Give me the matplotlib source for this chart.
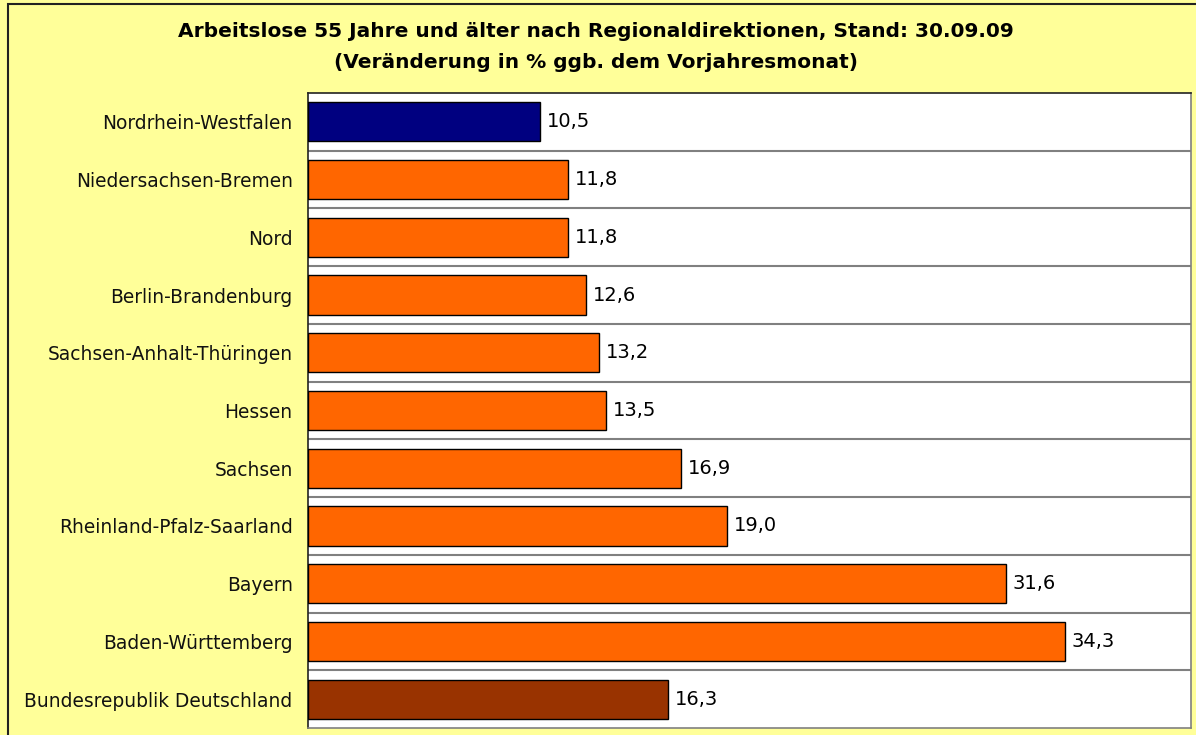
import matplotlib
matplotlib.use("Agg")
import matplotlib.pyplot as plt
from matplotlib.patches import Rectangle

categories = ["Nordrhein-Westfalen", "Niedersachsen-Bremen", "Nord", "Berlin-Brandenburg",
              "Sachsen-Anhalt-Thüringen", "Hessen", "Sachsen", "Rheinland-Pfalz-Saarland",
              "Bayern", "Baden-Württemberg", "Bundesrepublik Deutschland"]
values = [10.5, 11.8, 11.8, 12.6, 13.2, 13.5, 16.9, 19.0, 31.6, 34.3, 16.3]
colors = ["#000080"] + ["#FF6600"] * 9 + ["#993300"]
title = "Arbeitslose 55 Jahre und älter nach Regionaldirektionen, Stand: 30.09.09\n(Veränderung in % ggb. dem Vorjahresmonat)"

W, H = 1196, 735
fig = plt.figure(figsize=(W / 100, H / 100), dpi=100)
fig.patch.set_facecolor("#FFFF99")
fig.patches.append(Rectangle((8 / W, -0.1), 1.2, 1.1 - 4 / H, transform=fig.transFigure,
                             fill=False, edgecolor="#222222", linewidth=1.5))

ax = fig.add_axes([308 / W, 1 - 728 / H, (1191 - 308) / W, (728 - 93) / H])
ax.set_facecolor("white")
n = len(categories)
ypos = list(range(n))
ax.barh(ypos, values, height=0.68, color=colors, edgecolor="black", linewidth=1, zorder=3)
ax.set_xlim(0, 40)
ax.set_ylim(n - 0.5, -0.5)
for k in range(1, n):
    ax.axhline(k - 0.5, color="#808080", linewidth=1.5, zorder=1)
for y, v in zip(ypos, values):
    ax.text(v + 0.3, y, f"{v:.1f}".replace(".", ","), va="center", ha="left",
            fontsize=14, color="black", zorder=4)
ax.set_yticks(ypos)
ax.set_yticklabels(categories, fontsize=13.4, color="#111111")
ax.tick_params(axis="y", length=0, pad=11)
ax.set_xticks([])
for s in ax.spines.values():
    s.set_color("#808080")
    s.set_linewidth(1.2)
ax.spines["top"].set_color("#222222")
ax.spines["left"].set_color("#222222")

fig.text(596 / W, 1 - 47 / H, title, ha="center", va="center", fontsize=14.5,
         fontweight="bold", linespacing=1.75)

fig.savefig("out.png", dpi=100, facecolor=fig.get_facecolor())
